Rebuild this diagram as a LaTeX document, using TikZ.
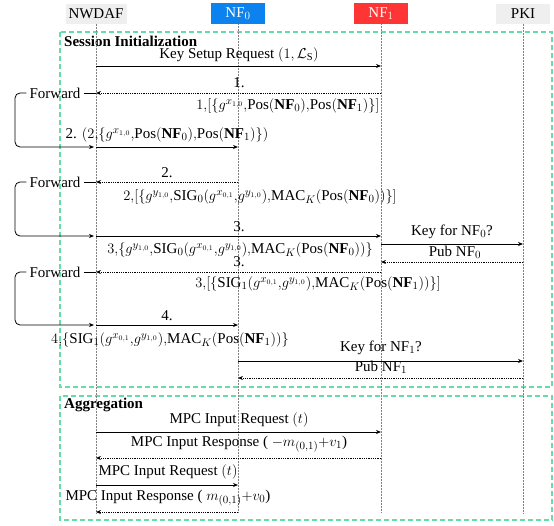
\documentclass[tikz,border=0pt]{standalone}
\usepackage{fontspec}
\setmainfont{Liberation Serif}
\usetikzlibrary{arrows.meta}
\definecolor{hgray}{RGB}{239,239,239}
\definecolor{hblue}{RGB}{12,130,238}
\definecolor{hred}{RGB}{255,52,52}
\definecolor{boxgreen}{RGB}{100,221,170}
\definecolor{lifegray}{RGB}{130,130,130}
\tikzset{
  head/.style={minimum height=20pt, minimum width=54pt, inner xsep=3pt, inner ysep=0pt, anchor=center},
  lifeline/.style={lifegray, densely dotted, line width=0.5pt},
  msg/.style={-{Stealth[length=5pt,width=4pt]}, line width=0.8pt},
  reply/.style={msg, densely dotted},
  lbl/.style={inner sep=0pt, anchor=center},
  fwd/.style={inner sep=3pt, anchor=center},
  loopline/.style={msg, rounded corners=5pt},
  sect/.style={boxgreen, dashed, dash pattern=on 5pt off 3pt, line width=1.3pt},
  secttitle/.style={inner sep=2pt, anchor=west, font=\bfseries}
}
\begin{document}
\begin{tikzpicture}[x=1pt,y=-1pt]
\fontsize{15}{18}\selectfont
\useasboundingbox (0,0) rectangle (554,525);
% section boxes
\draw[sect] (60,32) rectangle (552,387);
\draw[sect] (60,396) rectangle (552,520);
\node[secttitle] (ts) at (62,41) {Session Initialization};
\node[secttitle] (ta) at (62,405) {Aggregation};
% headers
\node[head, fill=hgray] (nwdaf) at (96,13.5) {NWDAF};
\node[head, fill=hblue, text=white, minimum height=21pt] (nf0) at (238,13.5) {NF$_0$};
\node[head, fill=hred, text=white, minimum height=21pt] (nf1) at (381,13.5) {NF$_1$};
\node[head, fill=hgray] (pki) at (523,13.5) {PKI};
% lifelines
\coordinate (e0) at (96,513);
\coordinate (e1) at (238,513);
\coordinate (e2) at (381,513);
\coordinate (e3) at (523,513);
\draw[lifeline] (nwdaf.south) -- (e0);
\draw[lifeline] (nf0.south) -- (e1);
\draw[lifeline] (nf1.south) -- (e2);
\draw[lifeline] (pki.south) -- (e3);
% message 0
\node[lbl] (l0) at (239,55) {Key Setup Request $(1,\mathcal{L}_{\mathrm{S}})$};
\draw[msg] (nwdaf |- 0,66) -- (nf1 |- 0,66);
% message 1
\node[lbl] (l1a) at (239,83) {1.};
\draw[reply] (nf1 |- 0,93) -- (nwdaf |- 0,93);
\node[lbl] (l1b) at (288,106) {$1{,}[\{g^{x_{1,0}}{,}\mathrm{Pos}(\mathbf{NF}_0){,}\mathrm{Pos}(\mathbf{NF}_1)\}]$};
\node[fwd] (f1) at (55,93) {Forward};
\draw[line width=0.8pt] (f1.east) -- (nwdaf |- 0,93);
\draw[loopline] (f1.west) -- (15,93) -- (15,147) -- ([xshift=-2pt]nwdaf |- 0,147);
% message 2
\node[lbl] (l2a) at (167,135) {2. $(2{,}\{g^{x_{1,0}}{,}\mathrm{Pos}(\mathbf{NF}_0){,}\mathrm{Pos}(\mathbf{NF}_1)\})$};
\draw[msg] (nwdaf |- 0,147) -- (nf0 |- 0,147);
\node[lbl] (l2b) at (167,173) {2.};
\draw[reply] (nf0 |- 0,182) -- (nwdaf |- 0,182);
\node[lbl] (l2c) at (260,197) {$2{,}[\{g^{y_{1,0}}{,}\mathrm{SIG}_0(g^{x_{0,1}}{,}g^{y_{1,0}}){,}\mathrm{MAC}_K(\mathrm{Pos}(\mathbf{NF}_0))\}]$};
\node[fwd] (f2) at (55,182) {Forward};
\draw[line width=0.8pt] (f2.east) -- (nwdaf |- 0,182);
\draw[loopline] (f2.west) -- (15,182) -- (15,236) -- ([xshift=-2pt]nwdaf |- 0,236);
% message 3
\node[lbl] (l3a) at (239,227) {3.};
\draw[msg] (nwdaf |- 0,236) -- (nf1 |- 0,236);
\node[lbl] (l3b) at (240,250) {$3{,}\{g^{y_{1,0}}{,}\mathrm{SIG}_0(g^{x_{0,1}}{,}g^{y_{1,0}}){,}\mathrm{MAC}_K(\mathrm{Pos}(\mathbf{NF}_0))\}$};
\node[lbl] (k0) at (452,232) {Key for NF$_0$?};
\draw[msg] (nf1 |- 0,244) -- (pki |- 0,244);
\node[lbl] (p0) at (455,252) {Pub NF$_0$};
\draw[reply] (pki |- 0,262) -- (nf1 |- 0,262);
\node[lbl] (l3c) at (239,262) {3.};
\draw[reply] (nf1 |- 0,272) -- (nwdaf |- 0,272);
\node[lbl] (l3d) at (318,284) {$3{,}[\{\mathrm{SIG}_1(g^{x_{0,1}}{,}g^{y_{1,0}}){,}\mathrm{MAC}_K(\mathrm{Pos}(\mathbf{NF}_1))\}]$};
\node[fwd] (f3) at (55,272) {Forward};
\draw[line width=0.8pt] (f3.east) -- (nwdaf |- 0,272);
\draw[loopline] (f3.west) -- (15,272) -- (15,325) -- ([xshift=-2pt]nwdaf |- 0,325);
% message 4
\node[lbl] (l4a) at (167,316) {4.};
\draw[msg] (nwdaf |- 0,325) -- (nf0 |- 0,325);
\node[lbl] (l4b) at (170,340) {$4{,}\{\mathrm{SIG}_1(g^{x_{0,1}}{,}g^{y_{1,0}}){,}\mathrm{MAC}_K(\mathrm{Pos}(\mathbf{NF}_1))\}$};
\node[lbl] (k1) at (381,348) {Key for NF$_1$?};
\draw[msg] (nf0 |- 0,361) -- (pki |- 0,361);
\node[lbl] (p1) at (381,367) {Pub NF$_1$};
\draw[reply] (pki |- 0,378) -- (nf0 |- 0,378);
% aggregation
\node[lbl] (m1) at (239,420) {MPC Input Request $(t)$};
\draw[msg] (nwdaf |- 0,432) -- (nf1 |- 0,432);
\node[lbl] (m2) at (239,444) {MPC Input Response ( $-m_{(0,1)}{+}v_1$)};
\draw[reply] (nf1 |- 0,458) -- (nwdaf |- 0,458);
\node[lbl] (m3) at (168,472) {MPC Input Request $(t)$};
\draw[msg] (nwdaf |- 0,485) -- (nf0 |- 0,485);
\node[lbl] (m4) at (168,498) {MPC Input Response ( $m_{(0,1)}{+}v_0$)};
\draw[reply] (nf0 |- 0,512) -- (nwdaf |- 0,512);
\end{tikzpicture}
\end{document}
